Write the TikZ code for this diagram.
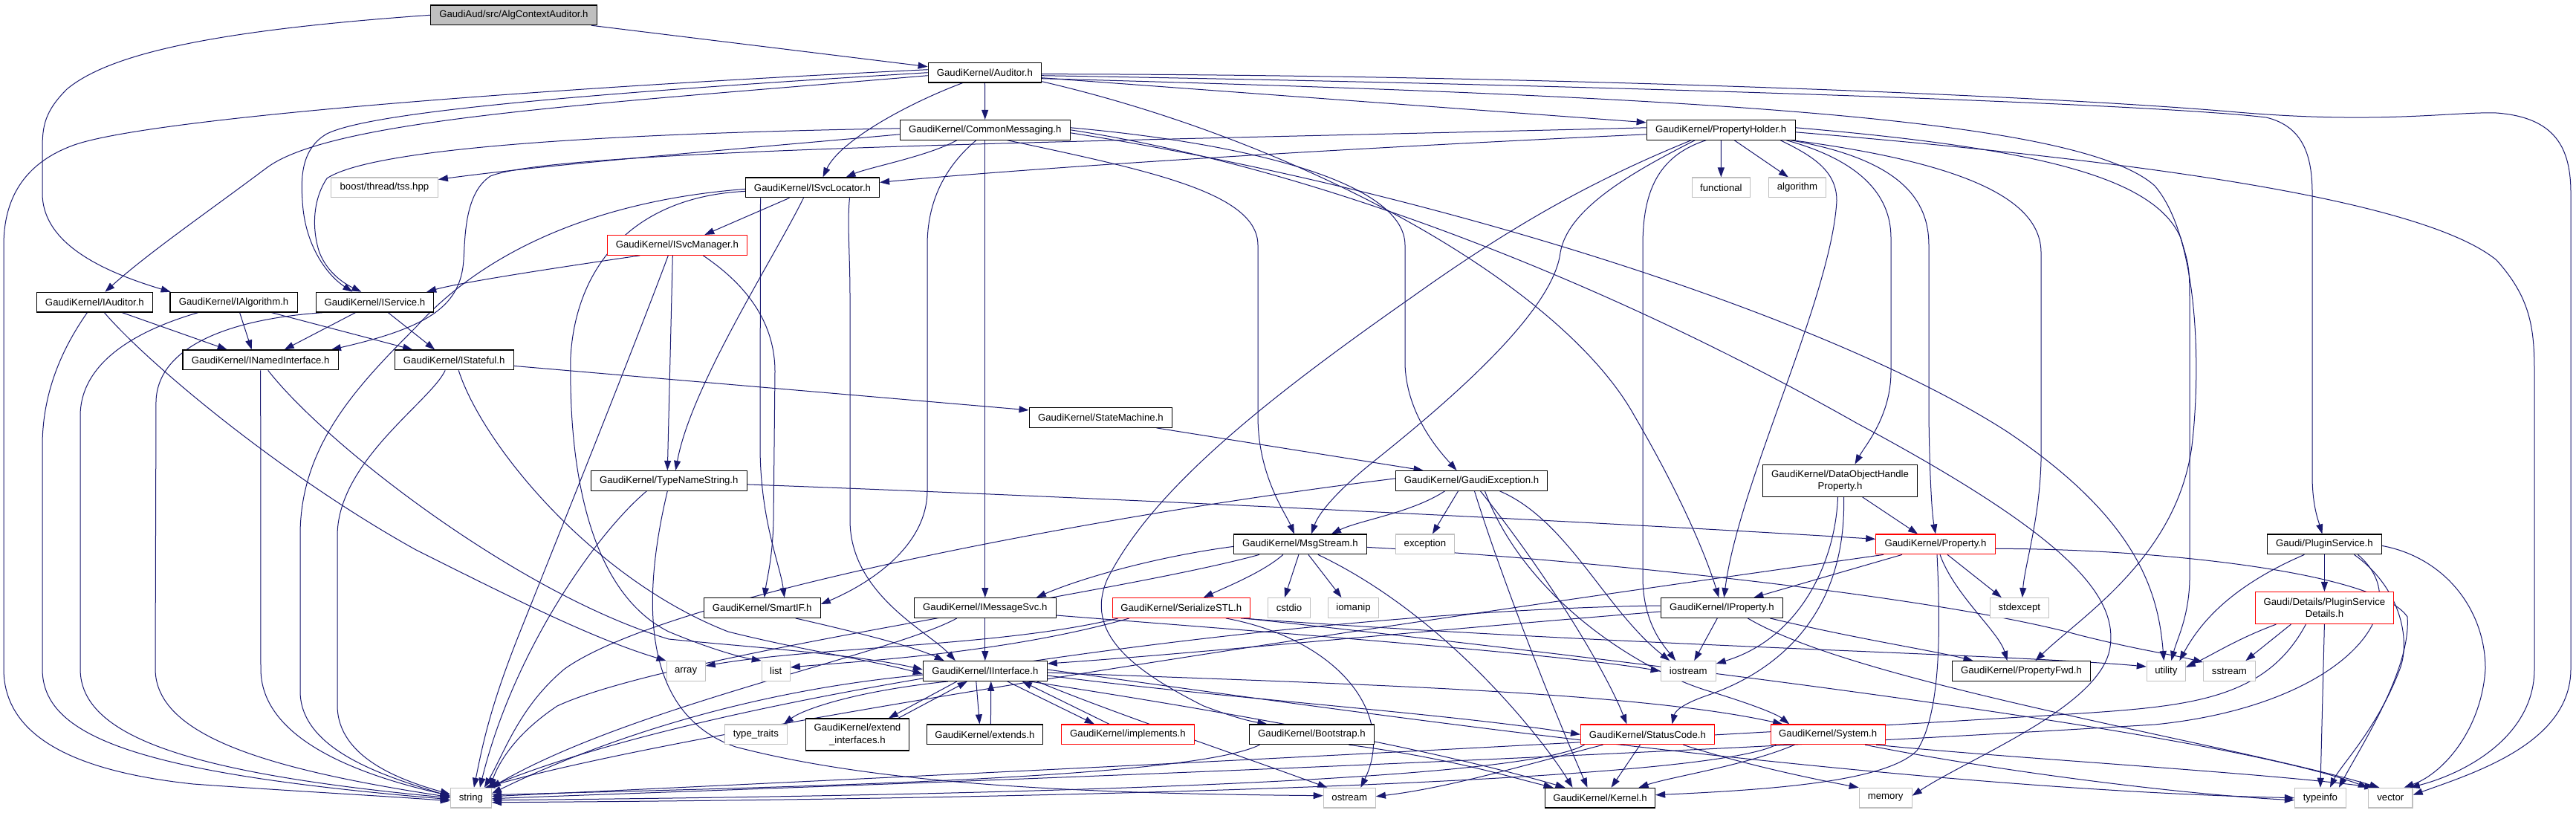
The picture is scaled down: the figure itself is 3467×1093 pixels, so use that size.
\documentclass[tikz,border=0pt]{standalone}
\usepackage{fontspec}
\setmainfont{Liberation Sans}
\usetikzlibrary{arrows.meta}
\definecolor{edgeblue}{HTML}{191970}
\definecolor{boxgray}{HTML}{BFBFBF}
\newcommand\nodefont{\fontsize{13.2}{16.2}\selectfont}
\pgfdeclarelayer{bg}
\pgfsetlayers{bg,main}
\begin{document}
\begin{tikzpicture}[x=1pt,y=-1pt,
  filebox/.style={draw=black,line width=1.2pt,fill=white,inner sep=0pt,minimum height=26.7pt,font=\nodefont,align=center,text=black},
  redbox/.style={filebox,draw=red},
  sysbox/.style={filebox,draw=boxgray},
  rootbox/.style={filebox,fill=boxgray},
  tallbox/.style={minimum height=43pt},
  dep/.style={draw=edgeblue,line width=1pt,-{Triangle[length=13pt,width=9pt]}}]
\useasboundingbox (0,0) rectangle (3467,1093);
\begin{pgfonlayer}{bg}
\fill[white] (0,0) rectangle (3467,1093);
\end{pgfonlayer}
% ---------------- nodes
\node[rootbox,minimum width=224pt] (root) at (691.4,20.3) {GaudiAud/src/AlgContextAuditor.h};
\node[filebox,minimum width=152.4pt] (aud) at (1325.4,97.7) {GaudiKernel/Auditor.h};
\node[filebox,minimum width=228.8pt] (cm) at (1325.8,174.8) {GaudiKernel/CommonMessaging.h};
\node[filebox,minimum width=200pt] (ph) at (2316.2,174.8) {GaudiKernel/PropertyHolder.h};
\node[filebox,minimum width=180pt] (svcloc) at (1093.5,252.4) {GaudiKernel/ISvcLocator.h};
\node[sysbox,minimum width=143.8pt] (boost) at (517.4,252.4) {boost/thread/tss.hpp};
\node[sysbox,minimum width=78pt] (functional) at (2316.4,252.4) {functional};
\node[sysbox,minimum width=77.3pt] (algorithm) at (2418.9,252.4) {algorithm};
\node[redbox,minimum width=188.3pt] (svcmgr) at (911.3,329.9) {GaudiKernel/ISvcManager.h};
\node[filebox,minimum width=156pt] (iaud) at (127.4,406.7) {GaudiKernel/IAuditor.h};
\node[filebox,minimum width=171.4pt] (ialg) at (314.6,406.7) {GaudiKernel/IAlgorithm.h};
\node[filebox,minimum width=158.4pt] (iserv) at (504.4,406.7) {GaudiKernel/IService.h};
\node[filebox,minimum width=209.3pt] (inamed) at (350.7,484.4) {GaudiKernel/INamedInterface.h};
\node[filebox,minimum width=160pt] (istate) at (611.2,484.4) {GaudiKernel/IStateful.h};
\node[filebox,minimum width=192.5pt] (sm) at (1481.4,561.9) {GaudiKernel/StateMachine.h};
\node[filebox,minimum width=210pt] (tns) at (900.3,646.9) {GaudiKernel/TypeNameString.h};
\node[filebox,minimum width=204pt] (gexc) at (1980.5,646.9) {GaudiKernel/GaudiException.h};
\node[filebox,tallbox,minimum width=208.6pt] (dohp) at (2476.5,646.7) {GaudiKernel/DataObjectHandle\\Property.h};
\node[redbox,minimum width=160.3pt] (prop) at (2605,732.4) {GaudiKernel/Property.h};
\node[filebox,minimum width=154pt] (plugin) at (3128.4,732.4) {Gaudi/PluginService.h};
\node[filebox,minimum width=179pt] (msg) at (1749.9,732.4) {GaudiKernel/MsgStream.h};
\node[sysbox,minimum width=78.8pt] (exception) at (1917.9,732.4) {exception};
\node[filebox,minimum width=157pt] (smartif) at (1025.7,818) {GaudiKernel/SmartIF.h};
\node[filebox,minimum width=190.6pt] (imsg) at (1325.8,818) {GaudiKernel/IMessageSvc.h};
\node[redbox,minimum width=185.2pt] (ser) at (1589.8,818) {GaudiKernel/SerializeSTL.h};
\node[sysbox,minimum width=57.4pt] (cstdio) at (1735,818) {cstdio};
\node[sysbox,minimum width=68pt] (iomanip) at (1821.5,818) {iomanip};
\node[filebox,minimum width=164pt] (iprop) at (2317.3,818) {GaudiKernel/IProperty.h};
\node[sysbox,minimum width=78.8pt] (stdexcept) at (2717.8,818) {stdexcept};
\node[redbox,tallbox,minimum width=186.3pt] (psd) at (3128.4,818) {Gaudi/Details/PluginService\\Details.h};
\node[sysbox,minimum width=52pt] (array) at (923.1,903) {array};
\node[sysbox,minimum width=37.9pt] (list) at (1044.3,903) {list};
\node[filebox,minimum width=166.8pt] (iint) at (1325.8,903) {GaudiKernel/IInterface.h};
\node[sysbox,minimum width=73.9pt] (iostream) at (2272.2,903) {iostream};
\node[filebox,minimum width=186.2pt] (pfwd) at (2720.5,903) {GaudiKernel/PropertyFwd.h};
\node[sysbox,minimum width=51.9pt] (utility) at (2915.3,903) {utility};
\node[sysbox,minimum width=69.7pt] (sstream) at (3000.4,903) {sstream};
\node[sysbox,minimum width=83.8pt] (typetraits) at (1017.4,988.3) {type\_traits};
\node[filebox,tallbox,minimum width=138.6pt] (extif) at (1153.9,988.5) {GaudiKernel/extend\\\_interfaces.h};
\node[filebox,minimum width=156.2pt] (extends) at (1325.4,988.3) {GaudiKernel/extends.h};
\node[redbox,minimum width=179.1pt] (impl) at (1517.9,988.3) {GaudiKernel/implements.h};
\node[filebox,minimum width=168pt] (boot) at (1765.4,988.3) {GaudiKernel/Bootstrap.h};
\node[redbox,minimum width=179.6pt] (sc) at (2217.4,988.3) {GaudiKernel/StatusCode.h};
\node[redbox,minimum width=153.8pt] (sys) at (2460.2,988.3) {GaudiKernel/System.h};
\node[sysbox,minimum width=55.1pt] (string) at (633.9,1073.7) {string};
\node[sysbox,minimum width=70pt] (ostream) at (1816.3,1073.7) {ostream};
\node[filebox,minimum width=148.1pt] (kernel) at (2153.5,1073.7) {GaudiKernel/Kernel.h};
\node[sysbox,minimum width=70.8pt] (memory) at (2537.7,1073.7) {memory};
\node[sysbox,minimum width=68.9pt] (typeinfo) at (3122.9,1073.7) {typeinfo};
\node[sysbox,minimum width=59.5pt] (vector) at (3217.3,1073.7) {vector};
% ---------------- edges
\begin{pgfonlayer}{bg}
% root
\draw[dep] ([xshift=-8]root.south east) -- ([yshift=8]aud.west);
\draw[dep] (root.west) .. controls (300,40) and (150,70) .. (90,120) .. controls (60,150) and (57,170) .. (57,200) -- (57,260) .. controls (57,320) and (120,360) .. ([xshift=-85]ialg.north);
% Auditor
\draw[dep] (aud) -- (cm);
\draw[dep] ([yshift=-4]aud.west) .. controls (800,140) and (450,160) .. (360,225) .. controls (280,285) and (200,340) .. ([xshift=14]iaud.north);
\draw[dep] (aud.west) .. controls (800,125) and (500,150) .. (440,180) .. controls (405,200) and (405,240) .. (407,270) .. controls (410,330) and (440,370) .. ([xshift=-30]iserv.north);
\draw[dep] ([xshift=-30]aud.south) .. controls (1220,140) and (1130,190) .. ([xshift=14]svcloc.north);
\draw[dep] ([yshift=4]aud.west) .. controls (700,120) and (200,160) .. (100,195) .. controls (30,220) and (5,270) .. (5,330) -- (5,900) .. controls (5,1000) and (120,1040) .. (260,1055) .. controls (400,1065) and (500,1070) .. ([yshift=-4]string.west);
\draw[dep] ([yshift=-7]aud.east) -- ([yshift=10]ph.west);
\draw[dep] ([yshift=-2]aud.east) .. controls (2000,100) and (2700,125) .. (3000,150) .. controls (3200,168) and (3300,150) .. (3360,152) .. controls (3440,158) and (3460,200) .. (3460,260) -- (3460,900) .. controls (3460,1000) and (3330,1040) .. ([yshift=4]vector.east);
\draw[dep] ([yshift=-4]aud.east) .. controls (2200,115) and (2900,140) .. (3050,158) .. controls (3100,170) and (3112,210) .. (3112,260) -- (3112,640) .. controls (3112,680) and (3120,700) .. ([xshift=-3]plugin.north);
\draw[dep] ([yshift=-12]aud.east) .. controls (1750,190) and (2100,380) .. (2200,560) .. controls (2270,680) and (2300,760) .. ([xshift=-4]iprop.north);
\draw[dep] ([yshift=-8]aud.east) .. controls (2300,130) and (2800,160) .. (2900,250) .. controls (2960,320) and (2962,500) .. (2950,600) .. controls (2930,750) and (2800,830) .. ([xshift=19]pfwd.north);
% CommonMessaging
\draw[dep] ([yshift=-6]cm.west) .. controls (1000,200) and (750,220) .. ([yshift=-3]boost.north east);
\draw[dep] ([xshift=-38]cm.south) .. controls (1250,210) and (1170,225) .. ([xshift=45]svcloc.north);
\draw[dep] ([yshift=2]cm.west) .. controls (800,180) and (500,200) .. (440,240) .. controls (420,270) and (420,310) .. (430,340) .. controls (440,365) and (460,380) .. ([xshift=-18]iserv.north);
\draw[dep] (cm) -- (imsg);
\draw[dep] ([xshift=30]cm.south) .. controls (1550,230) and (1693,260) .. (1693,330) -- (1693,560) .. controls (1693,640) and (1730,690) .. ([xshift=-8]msg.north);
\draw[dep] ([xshift=-12]cm.south) .. controls (1265,230) and (1248,280) .. (1248,330) -- (1248,660) .. controls (1248,740) and (1160,790) .. ([yshift=5]smartif.east);
\draw[dep] ([yshift=3]cm.east) .. controls (1700,195) and (1891,250) .. (1891,330) -- (1891,490) .. controls (1893,560) and (1940,610) .. ([xshift=-20]gexc.north);
\draw[dep] (cm.east) .. controls (1800,230) and (2200,400) .. (2500,570) .. controls (2780,720) and (2850,800) .. (2840,870) .. controls (2830,950) and (2650,1020) .. ([yshift=3]memory.east);
\draw[dep] ([yshift=-4]cm.east) .. controls (1900,250) and (2450,420) .. (2700,580) .. controls (2880,700) and (2905,800) .. ([xshift=-3]utility.north);
% PropertyHolder
\draw[dep] (ph) -- (functional);
\draw[dep] ([xshift=18]ph.south) -- ([xshift=-12]algorithm.north);
\draw[dep] ([yshift=-6]ph.west) .. controls (1800,200) and (1400,225) .. ([yshift=7]svcloc.east);
\draw[dep] ([yshift=3]ph.west) .. controls (1500,190) and (750,200) .. (660,237) .. controls (625,260) and (626,320) .. (624,350) .. controls (620,410) and (580,440) .. ([xshift=-10]inamed.north east);
\draw[dep] ([xshift=-35]ph.south) .. controls (2200,230) and (2110,280) .. (2100,340) .. controls (2090,420) and (1950,540) .. (1850,620) .. controls (1800,660) and (1775,690) .. ([xshift=15]msg.north);
\draw[dep] ([xshift=-40]ph.south) .. controls (2150,240) and (2040,300) .. (1900,400) .. controls (1700,540) and (1550,660) .. (1490,780) .. controls (1460,850) and (1520,900) .. (1620,950) .. controls (1660,965) and (1680,970) .. ([xshift=-60]boot.north);
\draw[dep] ([xshift=-20]ph.south) .. controls (2230,210) and (2211,260) .. (2211,330) -- (2211,780) .. controls (2212,840) and (2240,870) .. ([xshift=-17]iostream.north);
\draw[dep] ([xshift=80]ph.south) .. controls (2440,210) and (2472,230) .. (2472,270) .. controls (2465,400) and (2340,650) .. ([xshift=3]iprop.north);
\draw[dep] ([xshift=88]ph.south) .. controls (2500,215) and (2545,260) .. (2545,320) -- (2545,500) .. controls (2545,560) and (2510,600) .. ([xshift=20]dohp.north);
\draw[dep] ([xshift=94]ph.south) .. controls (2560,215) and (2596,270) .. (2596,330) -- (2596,560) .. controls (2597,640) and (2600,690) .. (prop.north);
\draw[dep] ([xshift=-4]ph.south east) .. controls (2650,220) and (2747,270) .. (2747,340) -- (2747,620) .. controls (2745,700) and (2725,760) .. ([xshift=4]stdexcept.north);
\draw[dep] ([yshift=-3]ph.east) .. controls (2800,210) and (3250,260) .. (3360,350) .. controls (3405,400) and (3411,440) .. (3411,500) -- (3411,900) .. controls (3411,990) and (3320,1040) .. ([xshift=-4]vector.north east);
\draw[dep] ([yshift=3]ph.east) .. controls (2750,200) and (2900,240) .. (2935,320) .. controls (2947,360) .. (2947,420) -- (2947,780) .. controls (2946,830) and (2930,860) .. ([xshift=7]utility.north);
% ISvcLocator
\draw[dep] ([xshift=-31]svcloc.south) -- ([xshift=37]svcmgr.north);
\draw[dep] ([xshift=-12]svcloc.south) .. controls (1040,350) and (930,520) .. ([xshift=9]tns.north);
\draw[dep] ([xshift=-70]svcloc.south) -- (1023,600) .. controls (1023,700) and (1050,760) .. ([xshift=30]smartif.north);
\draw[dep] ([xshift=50]svcloc.south) .. controls (1140,300) and (1144,340) .. (1144,400) -- (1144,700) .. controls (1144,800) and (1250,850) .. ([xshift=-40]iint.north);
\draw[dep] ([yshift=-5]svcloc.west) .. controls (850,265) and (775,360) .. (768,480) .. controls (765,650) and (800,800) .. (900,850) .. controls (960,875) and (1000,885) .. (list.north west);
\draw[dep] ([yshift=-2]svcloc.west) .. controls (800,270) and (650,340) .. (560,440) .. controls (480,520) and (404,600) .. (404,720) -- (404,930) .. controls (404,1010) and (520,1045) .. ([yshift=2]string.west);
% ISvcManager
\draw[dep] ([xshift=-50]svcmgr.south) .. controls (750,360) and (620,380) .. ([xshift=-10]iserv.north east);
\draw[dep] ([xshift=-6]svcmgr.south) -- ([xshift=-2]tns.north);
\draw[dep] ([xshift=35]svcmgr.south) .. controls (1000,380) and (1043,430) .. (1043,500) -- (1041,700) .. controls (1040,750) and (1032,780) .. ([xshift=3]smartif.north);
\draw[dep] ([xshift=-12]svcmgr.south) .. controls (860,450) and (760,700) .. (700,850) .. controls (660,950) and (650,1000) .. ([xshift=4]string.north);
% IAuditor / IAlgorithm / IService
\draw[dep] ([xshift=37]iaud.south) -- ([xshift=-45]inamed.north);
\draw[dep] ([xshift=-10]iaud.south) .. controls (90,460) and (57,520) .. (57,600) -- (57,900) .. controls (57,990) and (180,1040) .. ([yshift=-2]string.west);
\draw[dep] ([xshift=13]iaud.south) .. controls (200,490) and (380,640) .. (560,740) .. controls (700,810) and (800,860) .. (array.north west);
\draw[dep] ([xshift=8]ialg.south) -- ([xshift=-12]inamed.north);
\draw[dep] ([xshift=51]ialg.south) -- ([xshift=-56]istate.north);
\draw[dep] ([xshift=-48]ialg.south) .. controls (200,440) and (108,480) .. (108,560) -- (108,900) .. controls (108,990) and (250,1040) .. (string.west);
\draw[dep] ([xshift=-26]iserv.south) -- ([xshift=32]inamed.north);
\draw[dep] ([xshift=18]iserv.south) -- ([xshift=-26]istate.north);
\draw[dep] ([xshift=-70]iserv.south) .. controls (300,430) and (212,470) .. (210,540) -- (209,900) .. controls (209,990) and (360,1035) .. ([yshift=1]string.west);
% INamedInterface / IStateful / StateMachine
\draw[dep] (inamed.south) -- (351,900) .. controls (351,990) and (470,1040) .. ([yshift=3]string.west);
\draw[dep] ([xshift=10]inamed.south) .. controls (440,600) and (700,800) .. (900,860) .. controls (1000,870) and (1150,880) .. ([yshift=2]iint.west);
\draw[dep] ([xshift=-12]istate.south) .. controls (580,540) and (455,620) .. (454,720) -- (454,950) .. controls (455,1020) and (540,1050) .. ([yshift=5]string.west);
\draw[dep] ([xshift=6]istate.south) .. controls (650,600) and (800,780) .. (980,850) .. controls (1080,875) and (1180,890) .. ([yshift=-4]iint.west);
\draw[dep] ([yshift=-8]istate.east) -- ([yshift=10]sm.west);
\draw[dep] ([xshift=75]sm.south) -- ([xshift=-65]gexc.north);
% TypeNameString
\draw[dep] ([yshift=-5]tns.east) .. controls (1500,670) and (2200,705) .. ([yshift=7]prop.west);
\draw[dep] ([xshift=-30]tns.south) .. controls (800,720) and (690,880) .. ([xshift=12]string.north);
\draw[dep] ([xshift=-2]tns.south) .. controls (865,800) and (860,960) .. (990,1005) .. controls (1200,1060) and (1500,1068) .. ([yshift=3]ostream.west);
% GaudiException
\draw[dep] ([xshift=-36]gexc.south) .. controls (1900,690) and (1830,700) .. ([xshift=42]msg.north);
\draw[dep] ([xshift=-18]gexc.south) -- ([xshift=10]exception.north);
\draw[dep] ([yshift=3]gexc.west) .. controls (1500,690) and (900,800) .. (760,900) .. controls (700,950) and (680,1010) .. ([xshift=18]string.north);
\draw[dep] ([xshift=4]gexc.south) .. controls (2015,760) and (2080,930) .. ([xshift=-17]kernel.north);
\draw[dep] ([xshift=12]gexc.south) .. controls (2080,770) and (2160,900) .. ([xshift=-28]sc.north);
\draw[dep] ([xshift=18]gexc.south) .. controls (2050,800) and (2200,900) .. (2300,930) .. controls (2350,945) and (2390,960) .. ([xshift=-52]sys.north);
\draw[dep] ([xshift=38]gexc.south) .. controls (2110,700) and (2160,820) .. ([xshift=-25]iostream.north);
% MsgStream
\draw[dep] ([yshift=-3]msg.west) .. controls (1550,750) and (1450,780) .. ([xshift=69]imsg.north);
\draw[dep] ([xshift=-23]msg.south) .. controls (1700,770) and (1650,790) .. ([xshift=30]ser.north);
\draw[dep] ([xshift=-2]msg.south) -- ([xshift=-6]cstdio.north);
\draw[dep] ([xshift=11]msg.south) -- ([xshift=-16]iomanip.north);
\draw[dep] ([xshift=-55]msg.south) .. controls (1500,800) and (900,880) .. (750,950) .. controls (690,990) and (670,1030) .. ([xshift=-3]string.north east);
\draw[dep] ([yshift=-4]msg.east) .. controls (2100,750) and (2600,800) .. (2800,855) .. controls (2880,875) and (2920,880) .. ([yshift=-2]sstream.north west);
\draw[dep] ([xshift=24]msg.south) .. controls (1950,830) and (2080,1000) .. ([xshift=-37]kernel.north);
% IMessageSvc
\draw[dep] (imsg) -- (iint);
\draw[dep] ([xshift=-38]imsg.south) .. controls (1200,880) and (850,950) .. ([xshift=-1]string.north east);
\draw[dep] ([yshift=-10]imsg.east) .. controls (1700,850) and (2100,880) .. (iostream.west);
% SerializeSTL
\draw[dep] ([xshift=60]ser.south) .. controls (1800,860) and (1880,960) .. ([xshift=15]ostream.north);
\draw[dep] ([xshift=-85]ser.south) .. controls (1350,870) and (1100,870) .. ([yshift=7]array.east);
\draw[dep] ([xshift=-70]ser.south) .. controls (1350,880) and (1150,890) .. ([yshift=5]list.east);
\draw[dep] ([xshift=80]ser.south) .. controls (2200,870) and (2700,880) .. ([yshift=6]utility.west);
\draw[dep] ([xshift=85]ser.south) .. controls (2300,900) and (3000,990) .. (vector.north west);
% IInterface
\draw[dep] ([yshift=-5]iint.west) .. controls (1000,930) and (800,1000) .. ([yshift=6]string.east);
\draw[dep] ([xshift=-50]iint.south) .. controls (1150,930) and (1080,955) .. ([xshift=-5]typetraits.north east);
\draw[dep] ([xshift=-38]iint.south) -- ([xshift=42]extif.north);
\draw[dep] ([xshift=55]extif.north) -- ([xshift=-24]iint.south);
\draw[dep] ([xshift=-12]iint.south) -- ([xshift=-7]extends.north);
\draw[dep] ([xshift=8]extends.north) -- ([xshift=8]iint.south);
\draw[dep] ([xshift=30]iint.south) -- ([xshift=-45]impl.north);
\draw[dep] ([xshift=-25]impl.north) -- ([xshift=50]iint.south);
\draw[dep] ([yshift=-6]iint.east) .. controls (1650,940) and (1950,960) .. (sc.west);
\draw[dep] ([yshift=-2]iint.east) .. controls (1800,920) and (2200,930) .. ([xshift=-61]sys.north);
\draw[dep] ([xshift=60]iint.south) .. controls (1600,950) and (1900,1000) .. ([xshift=-47]kernel.north);
\draw[dep] ([yshift=2]iint.east) .. controls (1700,940) and (2500,1060) .. (typeinfo.west);
\draw[dep] ([xshift=70]iint.south) .. controls (1500,960) and (1650,1010) .. ([xshift=-30]ostream.north);
% SmartIF
\draw[dep] ([xshift=45]smartif.south) .. controls (1150,850) and (1230,870) .. ([xshift=-55]iint.north);
% IProperty
\draw[dep] ([yshift=-5]iprop.west) .. controls (1900,850) and (1600,880) .. ([yshift=10]iint.east);
\draw[dep] ([yshift=3]iprop.west) .. controls (1800,820) and (1000,920) .. ([xshift=-6]string.north east);
\draw[dep] ([xshift=-6]iprop.south) -- ([xshift=8]iostream.north);
\draw[dep] ([xshift=65]iprop.south) .. controls (2500,860) and (2600,875) .. ([xshift=-65]pfwd.north);
\draw[dep] ([xshift=35]iprop.south) .. controls (2500,920) and (3000,1000) .. ([xshift=-15]vector.north);
% Property
\draw[dep] ([xshift=-45]prop.south) -- ([xshift=43]iprop.north);
\draw[dep] ([xshift=-70]prop.south) .. controls (2300,780) and (1000,960) .. ([xshift=-9]string.north east);
\draw[dep] ([xshift=16]prop.south) -- ([xshift=-24]stdexcept.north);
\draw[dep] ([xshift=6]prop.south) .. controls (2630,800) and (2690,850) .. ([xshift=-19]pfwd.north);
\draw[dep] ([xshift=2]prop.south) .. controls (2612,850) and (2612,960) .. (2580,1010) .. controls (2540,1050) and (2400,1062) .. ([yshift=4]kernel.east);
\draw[dep] ([yshift=-6]prop.east) .. controls (2900,738) and (3200,770) .. (3240,830) .. controls (3245,900) and (3180,1000) .. ([xshift=25]typeinfo.north);
% DataObjectHandleProperty
\draw[dep] ([xshift=30]dohp.south) -- ([xshift=-24]prop.north);
\draw[dep] ([xshift=-3]dohp.south) .. controls (2470,760) and (2420,860) .. ([yshift=10]iostream.east);
\draw[dep] ([xshift=5]dohp.south) .. controls (2485,820) and (2400,900) .. (2300,935) .. controls (2270,945) and (2255,955) .. ([xshift=33]sc.north);
% PluginService
\draw[dep] (plugin) -- (psd);
\draw[dep] ([xshift=-27]plugin.south) .. controls (3000,790) and (2960,840) .. ([xshift=18]utility.north);
\draw[dep] ([xshift=40]plugin.south) .. controls (3230,790) and (3245,860) .. (3230,900) .. controls (3200,980) and (3150,1030) .. ([xshift=13]typeinfo.north);
\draw[dep] ([yshift=-2]plugin.east) .. controls (3290,750) and (3345,820) .. (3345,900) .. controls (3340,980) and (3290,1040) .. ([xshift=-12]vector.north east);
\draw[dep] ([xshift=45]plugin.south) .. controls (3260,820) and (3150,950) .. (2900,975) .. controls (2000,1030) and (900,1065) .. ([yshift=-1]string.east);
% PluginServiceDetails
\draw[dep] ([xshift=-65]psd.south) .. controls (3010,860) and (2980,880) .. ([yshift=5]utility.east);
\draw[dep] ([xshift=-45]psd.south) -- ([xshift=22]sstream.north);
\draw[dep] (psd.south) -- (typeinfo.north);
\draw[dep] ([xshift=-25]psd.south) .. controls (3050,940) and (2950,950) .. (2800,960) .. controls (2000,1010) and (900,1060) .. ([yshift=2]string.east);
% StatusCode
\draw[dep] ([xshift=-60]sc.south) .. controls (2050,1030) and (1950,1060) .. ([yshift=2]ostream.east);
\draw[dep] ([xshift=-10]sc.south) -- ([xshift=15]kernel.north);
\draw[dep] ([xshift=48]sc.south) .. controls (2350,1030) and (2450,1050) .. (memory.north west);
\draw[dep] ([xshift=-85]sc.south) .. controls (2050,1050) and (1400,1070) .. ([yshift=-3]string.east);
% System
\draw[dep] ([xshift=-45]sys.south) .. controls (2350,1030) and (2250,1045) .. ([xshift=52]kernel.north);
\draw[dep] ([xshift=-70]sys.south) .. controls (2300,1050) and (1500,1075) .. ([yshift=-6]string.east);
\draw[dep] ([xshift=50]sys.south) .. controls (2700,1040) and (2950,1070) .. ([yshift=-3]typeinfo.west);
\draw[dep] ([xshift=65]sys.south) .. controls (2700,1020) and (3050,1040) .. ([xshift=-22]vector.north);
% Bootstrap
\draw[dep] ([xshift=50]boot.south) .. controls (1950,1020) and (2030,1045) .. ([xshift=-63]kernel.north);
\draw[dep] ([xshift=-70]boot.south) .. controls (1600,1050) and (1000,1060) .. ([yshift=4]string.east);
\end{pgfonlayer}
\end{tikzpicture}
\end{document}
